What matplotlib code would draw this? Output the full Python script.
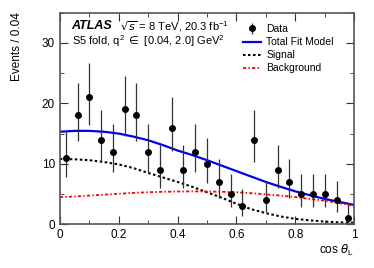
import numpy as np
import matplotlib
matplotlib.use("Agg")
import matplotlib.pyplot as plt
from matplotlib.ticker import MultipleLocator

# binned data, bin width 0.04
bin_centres = [0.02, 0.06, 0.10, 0.14, 0.18, 0.22, 0.26, 0.30, 0.34, 0.38, 0.42, 0.46, 0.50,
               0.54, 0.58, 0.62, 0.66, 0.70, 0.74, 0.78, 0.82, 0.86, 0.90, 0.94, 0.98]
events = [11, 18, 21, 14, 12, 19, 18, 12, 9, 16, 9, 12, 10,
          7, 5, 3, 14, 4, 9, 7, 5, 5, 5, 4, 1]
err_low = [3.26, 4.20, 4.55, 3.69, 3.41, 4.32, 4.20, 3.41, 2.94, 3.95, 2.94, 3.41, 3.11,
           2.58, 2.16, 1.63, 3.69, 1.91, 2.94, 2.58, 2.16, 2.16, 2.16, 1.91, 0.83]
err_high = [4.42, 5.35, 5.70, 4.84, 4.57, 5.47, 5.35, 4.57, 4.11, 5.10, 4.11, 4.57, 4.26,
            3.77, 3.38, 2.92, 4.84, 3.16, 4.11, 3.77, 3.38, 3.38, 3.38, 3.16, 2.30]

# fit curves read at cos(theta_L) = 0, 0.05, ..., 1
curve_x = [0.0, 0.05, 0.10, 0.15, 0.20, 0.25, 0.30, 0.35, 0.40, 0.45, 0.50,
           0.55, 0.60, 0.65, 0.70, 0.75, 0.80, 0.85, 0.90, 0.95, 1.0]
total_fit = [15.3, 15.45, 15.45, 15.3, 15.0, 14.5, 13.9, 13.1, 12.2, 11.45, 10.6,
             9.7, 8.8, 7.9, 7.0, 6.2, 5.45, 4.8, 4.2, 3.7, 3.2]
signal = [10.8, 10.75, 10.6, 10.3, 9.9, 9.3, 8.5, 7.75, 7.0, 6.2, 5.3,
          4.4, 3.4, 2.5, 1.85, 1.3, 0.9, 0.65, 0.45, 0.32, 0.25]
background = [4.5, 4.6, 4.75, 4.9, 5.05, 5.2, 5.3, 5.38, 5.42, 5.45, 5.42,
              5.38, 5.3, 5.15, 4.95, 4.75, 4.5, 4.2, 3.9, 3.5, 3.05]

plt.rcParams['font.family'] = ['Liberation Sans', 'DejaVu Sans']

fig = plt.figure(figsize=(3.74, 2.68), dpi=100)
ax = fig.add_axes([0.160, 0.163, 0.787, 0.790])

ax.plot(curve_x, total_fit, color='#0000ee', lw=1.6, label='Total Fit Model')
ax.plot(curve_x, signal, color='black', lw=1.5, ls=(0, (1.2, 1.2)), label='Signal')
ax.plot(curve_x, background, color='red', lw=1.3, ls=(0, (1.8, 1.2, 0.8, 1.2)), label='Background')
ax.errorbar(bin_centres, events, yerr=[err_low, err_high], fmt='o', color='black',
            ecolor='#333333', elinewidth=0.9, markersize=4, capsize=0, label='Data', zorder=5)

ax.set_xlim(0, 1)
ax.set_ylim(0, 35)
ax.xaxis.set_major_locator(MultipleLocator(0.2))
ax.xaxis.set_minor_locator(MultipleLocator(0.1))
ax.yaxis.set_major_locator(MultipleLocator(10))
ax.yaxis.set_minor_locator(MultipleLocator(5))
ax.set_xticks([0, 0.2, 0.4, 0.6, 0.8, 1])
ax.set_xticklabels(['0', '0.2', '0.4', '0.6', '0.8', '1'])
ax.tick_params(which='both', direction='in', top=True, right=True, labelsize=8.5, color='#333333')
ax.tick_params(which='major', length=6)
ax.tick_params(which='minor', length=3)
for s in ax.spines.values():
    s.set_color('#555555')
    s.set_linewidth(1.2)

ax.set_xlabel(r'cos $\theta_{\mathregular{L}}$', fontsize=8.5, loc='right', labelpad=1)
ax.set_ylabel('Events / 0.04', fontsize=8.5, loc='top')
ax.yaxis.set_label_coords(-0.125, 1.0)

ax.text(0.04, 0.935, 'ATLAS', transform=ax.transAxes, fontsize=9, fontweight='bold',
        fontstyle='italic', va='center')
ax.text(0.205, 0.935, r'$\sqrt{s}$ = 8 TeV, 20.3 fb$^{\mathregular{-1}}$', transform=ax.transAxes,
        fontsize=8, va='center')
ax.text(0.04, 0.865, r'S5 fold, q$^{\mathregular{2}}$ $\in$ [0.04, 2.0] GeV$^{\mathregular{2}}$',
        transform=ax.transAxes, fontsize=8, va='center')

handles, labels = ax.get_legend_handles_labels()
order = [3, 0, 1, 2]
ax.legend([handles[i] for i in order], [labels[i] for i in order], loc='upper right',
          bbox_to_anchor=(0.963, 0.99), frameon=False, fontsize=7.5, handlelength=1.7,
          handletextpad=0.5, labelspacing=0.3)

fig.savefig('out.png', dpi=100)
